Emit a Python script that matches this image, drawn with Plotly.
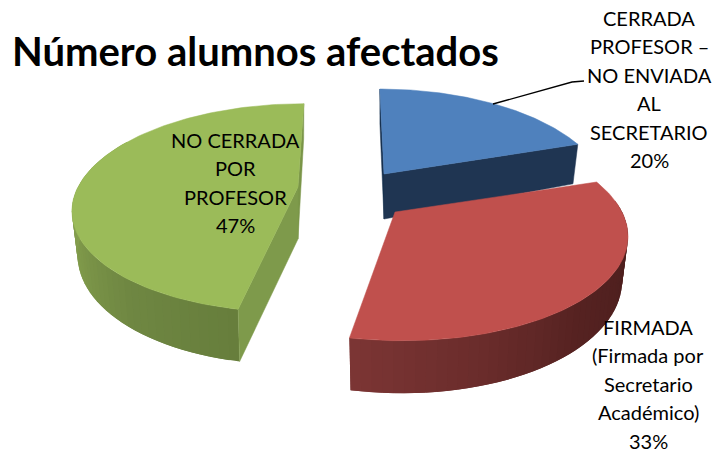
import numpy as np
import plotly.graph_objects as go

title = "Número alumnos afectados"
categories = ["CERRADA<br>PROFESOR –<br>NO ENVIADA<br>AL<br>SECRETARIO",
              "FIRMADA<br>(Firmada por<br>Secretario<br>Académico)",
              "NO CERRADA<br>POR<br>PROFESOR"]
values = [20, 33, 47]
top_colors = ["#4F81BD", "#C0504D", "#9BBB59"]

# view geometry of each exploded slice: apex, radii, lean, wall depth at apex
apex = [(384, 174), (395, 212), (298, 187)]
radii = [(218, 102), (227, 103), (220, 100)]
lean = [-5, -6, 7]
apex_depth = [45, 52, 52]
label_pos = [(649, 18), (648, 327), (235, 140)]
line_step = 28.4
persp = 0.2
rim_depth = 42
rim_shrink = 0.975
FONT = "Lato"

fig = go.Figure()


def project(i, th):
    w = 1 + persp * np.cos(th)
    x = apex[i][0] + (radii[i][0] * np.sin(th) + lean[i] * np.cos(th)) / w
    y = apex[i][1] - radii[i][1] * np.cos(th) / w
    return x, y, rim_depth / w


def lower(i, x):
    return apex[i][0] + (x - apex[i][0]) * rim_shrink


def poly(xs, ys, color, lw=0.5):
    fig.add_trace(go.Scatter(x=list(xs), y=list(ys), mode="lines", fill="toself",
                             fillcolor=color, line=dict(color=color, width=lw),
                             hoverinfo="skip", showlegend=False))


def mix(c1, c2, t):
    a = [int(c1[k:k + 2], 16) for k in (1, 3, 5)]
    b = [int(c2[k:k + 2], 16) for k in (1, 3, 5)]
    return "rgb(%d,%d,%d)" % tuple(round(p + (q - p) * t) for p, q in zip(a, b))


def rim(i, t0, t1, stops, n=48):
    ths = np.linspace(t0, t1, n + 1)
    for k in range(n):
        t = k / (n - 1)
        pos = t * (len(stops) - 1)
        j = min(int(pos), len(stops) - 2)
        col = mix(stops[j], stops[j + 1], pos - j)
        a = project(i, ths[k])
        b = project(i, ths[min(k + 2, n)])  # overlap the next strip to hide seams
        poly([a[0], b[0], lower(i, b[0]), lower(i, a[0]), a[0]],
             [a[1], b[1], b[1] + b[2], a[1] + a[2], a[1]], col, lw=0)


def radial_wall(i, th, color):
    x, y, d = project(i, th)
    ax, ay = apex[i]
    poly([ax, x, lower(i, x), ax, ax], [ay, y, y + d, ay + apex_depth[i], ay], color)


def top(i, t0, t1):
    ths = np.linspace(t0, t1, 120)
    x, y, _ = project(i, ths)
    poly([apex[i][0], *x, apex[i][0]], [apex[i][1], *y, apex[i][1]], top_colors[i])


edges = np.cumsum([0] + values) / sum(values) * 2 * np.pi

# blue
radial_wall(0, edges[0], "#17304F")
radial_wall(0, edges[1], "#1F3552")
top(0, edges[0], edges[1])

# green
radial_wall(2, edges[3], "#7A9548")
rim(2, edges[2], edges[2] + 1.9, ["#677E3C", "#6F8742", "#7F994A", "#87A150", "#8CA853"])
radial_wall(2, edges[2], "#7E9A4B")
top(2, edges[2], edges[3])

# red
rim(1, edges[1] + 0.2, edges[2], ["#4A1E1D", "#4E1F1E", "#552221", "#6A2C2B", "#7B3534"])
top(1, edges[1], edges[2])

# leader line of the first label
fig.add_trace(go.Scatter(x=[493, 572, 584], y=[104, 82, 81], mode="lines",
                         line=dict(color="#000000", width=1.3),
                         hoverinfo="skip", showlegend=False))

for name, v, (lx, ly) in zip(categories, values, label_pos):
    for n, line in enumerate(name.split("<br>") + [f"{v}%"]):
        fig.add_annotation(x=lx, y=ly + n * line_step, text=line, showarrow=False,
                           xanchor="center", yanchor="middle",
                           font=dict(family=FONT, size=20, color="#000000"))

fig.add_annotation(x=10, y=51, text=f"<b>{title}</b>", showarrow=False, xanchor="left",
                   yanchor="middle", font=dict(family=FONT, size=40, color="#000000"))

fig.update_layout(width=713, height=452, margin=dict(l=0, r=0, t=0, b=0),
                  paper_bgcolor="white", plot_bgcolor="white", showlegend=False,
                  xaxis=dict(range=[0, 713], visible=False, fixedrange=True),
                  yaxis=dict(range=[452, 0], visible=False, fixedrange=True))
fig.write_html("out.html", config={"displayModeBar": False},
               post_script="document.body.style.margin='0';document.body.style.overflow='hidden';")
